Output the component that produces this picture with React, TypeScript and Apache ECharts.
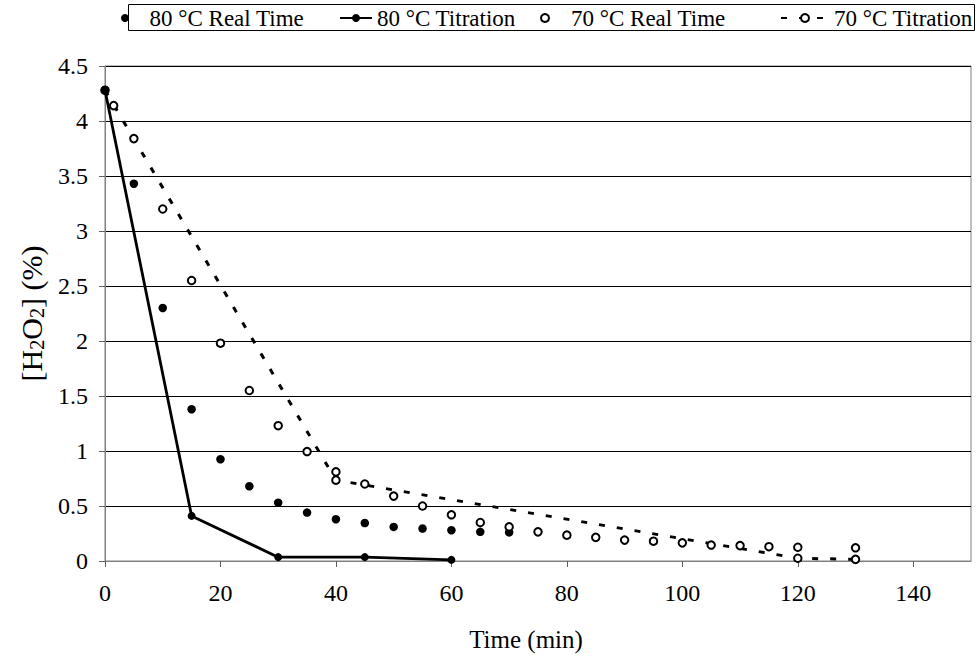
import React, { useEffect, useRef } from "react";
import * as echarts from "echarts";

const FONT = "'Liberation Serif', 'Times New Roman', Times, serif";

// 80 °C real-time measurements
const rt80Time = [0, 5, 10, 15, 20, 25, 30, 35, 40, 45, 50, 55, 60, 65, 70];
const rt80Value = [4.28, 3.43, 2.3, 1.38, 0.925, 0.68, 0.53, 0.44, 0.38, 0.345, 0.31, 0.295, 0.28, 0.265, 0.26];

// 80 °C titration
const tit80Time = [0, 15, 30, 45, 60];
const tit80Value = [4.28, 0.41, 0.035, 0.035, 0.01];

// 70 °C real-time measurements
const rt70Time = [1.5, 5, 10, 15, 20, 25, 30, 35, 40, 45, 50, 55, 60, 65, 70, 75, 80, 85, 90, 95, 100, 105, 110, 115, 120, 130];
const rt70Value = [4.14, 3.84, 3.2, 2.55, 1.98, 1.55, 1.23, 0.995, 0.81, 0.7, 0.59, 0.5, 0.42, 0.35, 0.31, 0.265, 0.235, 0.215, 0.19, 0.18, 0.165, 0.145, 0.14, 0.13, 0.125, 0.12];

// 70 °C titration
const tit70Time = [0, 40, 120, 130];
const tit70Value = [4.28, 0.735, 0.025, 0.015];

const xTicks = [0, 20, 40, 60, 80, 100, 120, 140];
const seriesNames = ["80 °C Real Time", "80 °C Titration", "70 °C Real Time", "70 °C Titration"];

const zip = (xs: number[], ys: number[]) => xs.map((x, i) => [x, ys[i]]);

export default function App() {
  const ref = useRef<HTMLDivElement>(null);
  useEffect(() => {
    if (!ref.current) return;
    const chart = echarts.init(ref.current, null, { renderer: "svg" });
    const legendBase = {
      top: 6,
      padding: 0,
      itemGap: 0,
      selectedMode: false,
      textStyle: { fontSize: 23, fontFamily: FONT, color: "#000", lineHeight: 24 },
    };
    chart.setOption({
      animation: false,
      backgroundColor: "#fff",
      textStyle: { fontFamily: FONT },
      grid: {
        left: 105,
        right: 8,
        top: 66,
        bottom: 95,
        show: true,
        borderColor: "#808080",
        borderWidth: 1,
        backgroundColor: "transparent",
      },
      legend: [
        { ...legendBase, left: 121, itemWidth: 39, itemHeight: 8, data: [seriesNames[0]] },
        { ...legendBase, left: 339, itemWidth: 32, itemHeight: 10, data: [seriesNames[1]] },
        { ...legendBase, left: 540, itemWidth: 42, itemHeight: 8, data: [seriesNames[2]] },
        { ...legendBase, left: 780, itemWidth: 48, itemHeight: 10, data: [seriesNames[3]] },
      ],
      graphic: [
        {
          type: "rect",
          shape: { x: 128.5, y: 4.5, width: 846, height: 26 },
          style: { fill: "none", stroke: "#000", lineWidth: 1 },
          silent: true,
          z: -1,
        },
      ],
      xAxis: {
        type: "value",
        min: 0,
        max: 150,
        interval: 20,
        name: "Time (min)",
        nameLocation: "middle",
        nameGap: 66,
        nameTextStyle: { fontSize: 25, fontFamily: FONT, color: "#000", padding: [0, 24, 0, 0] },
        axisLine: { show: true, onZero: false, lineStyle: { color: "#808080", width: 1 } },
        axisTick: { show: true, length: 6, lineStyle: { color: "#606060" }, customValues: xTicks },
        axisLabel: {
          fontSize: 24,
          fontFamily: FONT,
          color: "#000",
          margin: 20,
          customValues: xTicks,
        },
        splitLine: { show: false },
      },
      yAxis: {
        type: "value",
        min: 0,
        max: 4.5,
        interval: 0.5,
        name: "[H{sub|2}O{sub|2}] (%)",
        nameLocation: "middle",
        nameRotate: 90,
        nameGap: 58,
        nameTextStyle: {
          fontSize: 30,
          fontFamily: FONT,
          color: "#000",
          lineHeight: 32,
          rich: {
            sub: { fontSize: 20, fontFamily: FONT, color: "#000", lineHeight: 13, verticalAlign: "bottom" },
          },
        },
        axisLine: { show: true, lineStyle: { color: "#808080", width: 1 } },
        axisTick: { show: true, length: 6, lineStyle: { color: "#606060" } },
        axisLabel: { fontSize: 24, fontFamily: FONT, color: "#000", margin: 17 },
        splitLine: { show: true, lineStyle: { color: "#000", width: 1 } },
      },
      series: [
        {
          name: seriesNames[1],
          type: "line",
          data: zip(tit80Time, tit80Value),
          symbol: "circle",
          symbolSize: 8,
          showAllSymbol: true,
          lineStyle: { color: "#000", width: 2.8 },
          itemStyle: { color: "#000" },
          z: 3,
        },
        {
          name: seriesNames[3],
          type: "line",
          data: zip(tit70Time, tit70Value),
          symbol: "emptyCircle",
          symbolSize: 7.5,
          showAllSymbol: true,
          lineStyle: { color: "#000", width: 3, type: [6, 12] },
          itemStyle: { color: "#000", borderWidth: 1.5 },
          z: 3,
        },
        {
          name: seriesNames[0],
          type: "scatter",
          data: zip(rt80Time, rt80Value),
          symbol: "circle",
          symbolSize: 8.5,
          itemStyle: { color: "#000", opacity: 1 },
          z: 4,
        },
        {
          name: seriesNames[2],
          type: "scatter",
          data: zip(rt70Time, rt70Value),
          symbol: "emptyCircle",
          symbolSize: 7.5,
          itemStyle: { color: "#000", borderWidth: 1.5, opacity: 1 },
          z: 4,
        },
      ],
    });
    return () => chart.dispose();
  }, []);
  return <div ref={ref} style={{ width: 979, height: 657, position: "absolute", left: 0, top: 0 }} />;
}
